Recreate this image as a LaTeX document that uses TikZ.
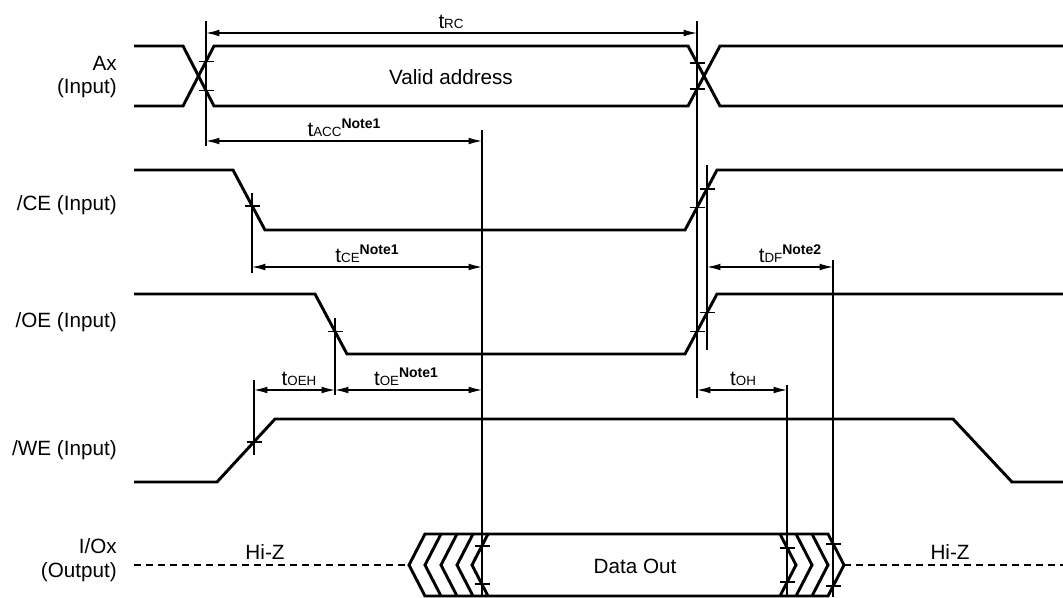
\documentclass[tikz,border=0pt]{standalone}
\usepackage{fontspec}
\setmainfont{Liberation Sans}
\usetikzlibrary{arrows.meta}
\tikzset{
	sig/.style={line width=2.2pt, line join=miter},
	hiz/.style={line width=2.2pt, dash pattern=on 5.5pt off 3.5pt},
	guide/.style={line width=0.9pt},
	tk/.style={line width=1.1pt},
	dim/.style={line width=0.9pt, <->},
	signame/.style={anchor=east, align=right, inner sep=0pt, font=\fontsize{15.5}{17.5}\selectfont},
	txt/.style={inner sep=0pt, font=\fontsize{15.5}{17}\selectfont},
	tlabel/.style={anchor=south, inner sep=0pt, font=\fontsize{15.5}{17}\selectfont}
}
\newcommand{\tsub}[1]{t{\fontsize{10}{10}\selectfont #1}}
\newcommand{\tnote}[2]{\tsub{#1}\raisebox{0.4em}{\fontsize{10.5}{10}\selectfont\bfseries #2}}

\begin{document}
\begin{tikzpicture}[x=0.75pt,y=-0.75pt,>={Latex[length=10pt,width=5pt]}]
	\useasboundingbox (0,0) rectangle (1063,597);

	% signal names
	\node[signame] (ax) at (117,77) {Ax\\(Input)};
	\node[signame] (ce) at (117,205) {/CE (Input)};
	\node[signame] (oe) at (117,322) {/OE (Input)};
	\node[signame] (we) at (117,450) {/WE (Input)};
	\node[signame] (io) at (117,560) {I/Ox\\(Output)};

	% Ax
	\draw[sig] (134,46) -- (183,46) -- (214,106) -- (688,106) -- (720,46) -- (1063,46);
	\draw[sig] (134,106) -- (183,106) -- (214,46) -- (688,46) -- (720,106) -- (1063,106);
	\node[txt] (valid) at (451,77) {Valid address};

	% /CE, /OE, /WE
	\draw[sig] (134,170) -- (233,170) -- (265,230) -- (685,230) -- (717,170) -- (1063,170);
	\draw[sig] (134,294) -- (315,294) -- (347,354) -- (685,354) -- (717,294) -- (1063,294);
	\draw[sig] (134,482) -- (217,482) -- (275,419) -- (953,419) -- (1012,482) -- (1063,482);

	% I/Ox
	\draw[hiz] (134,565) -- (409,565);
	\draw[hiz] (844,565) -- (1063,565);
	\draw[sig] (409,565) -- (425,534) -- (828,534) -- (844,565) -- (828,596) -- (425,596) -- cycle;
	\foreach \t in {425,441,457,472}
		\draw[sig] (\t+16,534) -- (\t,565) -- (\t+16,596);
	\foreach \t in {796,812,828}
		\draw[sig] (\t-16,534) -- (\t,565) -- (\t-16,596);
	\node[txt] (dout) at (635,566) {Data Out};
	\node[txt] (hiz1) at (265,552) {Hi-Z};
	\node[txt] (hiz2) at (950,552) {Hi-Z};

	% reference lines
	\foreach \x/\ya/\yb in {206/21/146, 697/21/398, 482/130/597, 252/193/273,
		707/165/350, 833/260/597, 335/318/395, 254/380/455, 787/385/597}
		\draw[guide] (\x,\ya) -- (\x,\yb);

	% crossing marks
	\foreach \x/\y in {206/61.5, 206/90.5, 697/63, 697/89, 252/206, 697/207.5, 707/189,
		335/331.5, 697/331.5, 707/312.5, 254/442, 482/546, 482/584, 787/548, 787/582,
		833/544, 833/586}
		\draw[tk] (\x-7.5,\y) -- (\x+7.5,\y);

	% timing arrows
	\draw[dim] (206,33) -- (697,33);
	\node[tlabel] (trc) at (451,29) {\tsub{RC}};
	\draw[dim] (206,141) -- (482,141);
	\node[tlabel] (tacc) at (344,137) {\tnote{ACC}{Note1}};
	\draw[dim] (252,267) -- (482,267);
	\node[tlabel] (tce) at (367,263) {\tnote{CE}{Note1}};
	\draw[dim] (707,267) -- (833,267);
	\node[tlabel] (tdf) at (790,263) {\tnote{DF}{Note2}};
	\draw[dim] (254,390) -- (335,390);
	\node[tlabel] (toeh) at (299,386) {\tsub{OEH}};
	\draw[dim] (335,390) -- (482,390);
	\node[tlabel] (toe) at (406,386) {\tnote{OE}{Note1}};
	\draw[dim] (697,390) -- (787,390);
	\node[tlabel] (toh) at (743,386) {\tsub{OH}};
\end{tikzpicture}
\end{document}
